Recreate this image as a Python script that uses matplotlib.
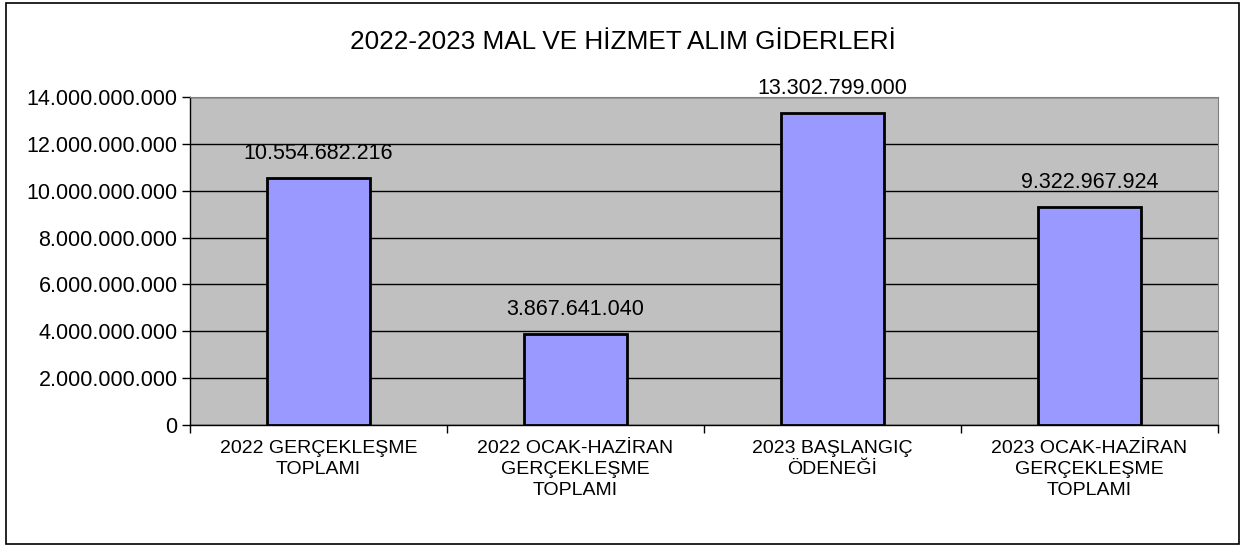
import matplotlib
matplotlib.use("Agg")
import matplotlib.pyplot as plt
from matplotlib.patches import Rectangle
from matplotlib.ticker import FuncFormatter, FixedLocator

plt.rcParams['font.family'] = ['Liberation Sans', 'DejaVu Sans']

categories = ["2022 GERÇEKLEŞME\nTOPLAMI",
              "2022 OCAK-HAZİRAN\nGERÇEKLEŞME\nTOPLAMI",
              "2023 BAŞLANGIÇ\nÖDENEĞİ",
              "2023 OCAK-HAZİRAN\nGERÇEKLEŞME\nTOPLAMI"]
values = [10554682216, 3867641040, 13302799000, 9322967924]
yticks = [0, 2e9, 4e9, 6e9, 8e9, 10e9, 12e9, 14e9]
title = "2022-2023 MAL VE HİZMET ALIM GİDERLERİ"

def tr(v):
    return f"{int(round(v)):,}".replace(",", ".")

W, H = 1245, 547
fig = plt.figure(figsize=(W/100, H/100), dpi=100)
fig.patches.append(Rectangle((6/W, 3/H), (1239-6)/W, (544-3)/H, transform=fig.transFigure,
                             fill=False, edgecolor='black', linewidth=1.2))
ax = fig.add_axes([190/W, 1-425/H, (1218-190)/W, (425-97)/H])
ax.set_facecolor('#C0C0C0')
x = list(range(len(values)))
ax.bar(x, values, width=0.4, color='#9999FF', edgecolor='black', linewidth=2, zorder=3)
ax.set_xlim(-0.5, len(values)-0.5)
ax.set_ylim(0, 14e9)
ax.set_yticks(yticks)
ax.yaxis.set_major_formatter(FuncFormatter(lambda v, p: tr(v)))
ax.grid(axis='y', color='black', linewidth=1, zorder=1)
ax.set_axisbelow(True)
ax.set_xticks(x)
ax.set_xticklabels(categories, fontsize=14, linespacing=1.3)
ax.tick_params(axis='x', length=0, pad=11)
ax.xaxis.set_minor_locator(FixedLocator([i - 0.5 for i in range(len(values)+1)]))
ax.tick_params(axis='x', which='minor', length=6, width=1, direction='out')
ax.tick_params(axis='y', length=6, width=1, direction='out', labelsize=15.5, pad=3)
for s in ['top', 'right']:
    ax.spines[s].set_color('#808080')
for s in ['left', 'bottom']:
    ax.spines[s].set_color('black')
    ax.spines[s].set_linewidth(1)
for xi, v in zip(x, values):
    ax.annotate(tr(v), (xi, v), xytext=(0, 10), textcoords='offset points',
                ha='center', va='bottom', fontsize=15.5)
fig.text(0.5, 1-42/H, title, ha='center', va='center', fontsize=18.8)
fig.savefig("out.png", dpi=100)
